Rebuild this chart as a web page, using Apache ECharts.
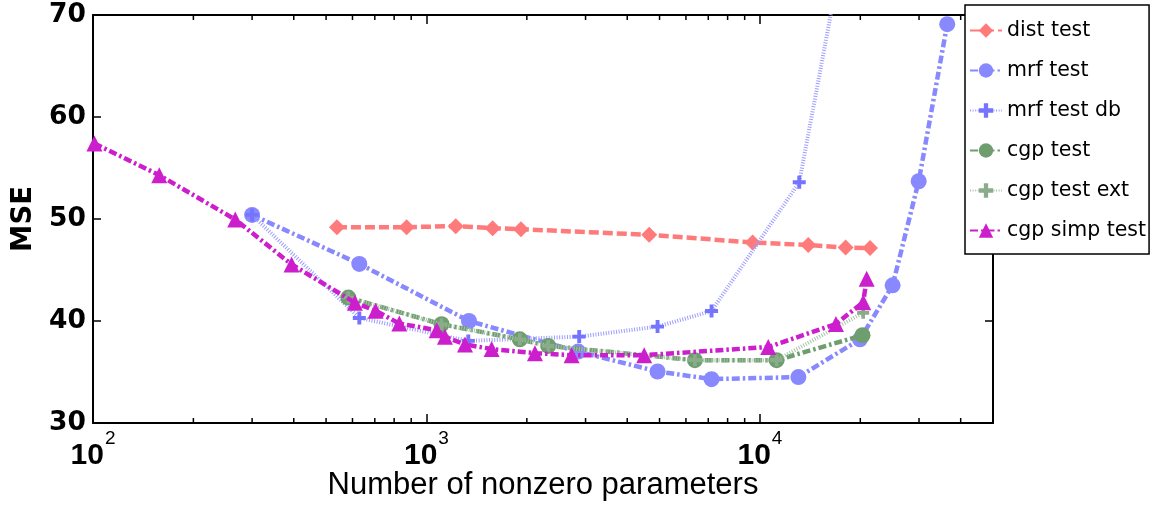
<!DOCTYPE html>
<html><head><meta charset="utf-8">
<script src="https://cdn.jsdelivr.net/npm/echarts@6/dist/echarts.min.js"></script>
<style>html,body{margin:0;padding:0;background:#fff}#c{width:1152px;height:506px}</style>
</head><body><div id="c"></div>
<script>
// ---- data ----
const seriesNames = ['dist test','mrf test','mrf test db','cgp test','cgp test ext','cgp simp test'];

const distX = [539, 872, 1224, 1579, 1920, 4656, 9508, 13960, 18070, 21390];
const distY = [49.2, 49.2, 49.3, 49.1, 49.0, 48.45, 47.7, 47.45, 47.2, 47.15];

const mrfX = [300, 629, 1341, 2851, 4932, 7160, 13040, 19950, 25000, 29930, 36450];
const mrfY = [50.4, 45.6, 40.0, 37.0, 35.05, 34.3, 34.5, 38.2, 43.5, 53.7, 69.1];

const mrfDbX = [300, 629, 1335, 2871, 4932, 7160, 13120, 18000];
const mrfDbY = [50.4, 40.3, 38.05, 38.47, 39.45, 40.98, 53.6, 77.5];

const cgpX = [583, 1110, 1905, 2318, 6383, 11220, 20310];
const cgpY = [42.3, 39.68, 38.2, 37.56, 36.16, 36.16, 38.6];

const cgpExtX = [583, 1110, 1905, 2318, 6383, 11220, 20400];
const cgpExtY = [42.3, 39.68, 38.2, 37.56, 36.16, 36.16, 40.8];

const simpX = [101, 158, 267, 394, 610, 704, 829, 1073, 1136, 1305, 1568, 2115, 2725, 4498, 10590, 16900, 20410, 20900];
const simpY = [57.4, 54.3, 49.95, 45.55, 41.8, 41.0, 39.75, 39.1, 38.45, 37.7, 37.25, 36.85, 36.65, 36.65, 37.45, 39.7, 41.85, 44.15];

const xMajorTicks = [100, 1000, 10000];
const xTickBase = ['10', '10', '10'];
const xTickExp = ['2', '3', '4'];
const xMinorTicks = [200,300,400,500,600,700,800,900,2000,3000,4000,5000,6000,7000,8000,9000,20000,30000,40000];
const yTicks = [30, 40, 50, 60, 70];

// ---- chart ----
const FONT = 'DejaVu Sans';
const FONT2 = 'Liberation Sans';
function zip(xs, ys) { return xs.map((x, i) => [x, ys[i]]); }
const PLUS = 'path://M3.5,0H6.5V3.5H10V6.5H6.5V10H3.5V6.5H0V3.5H3.5Z';

function xLabel(v) {
  for (let i = 0; i < xMajorTicks.length; i++) {
    if (Math.abs(v - xMajorTicks[i]) / xMajorTicks[i] < 1e-6) return '{b|' + xTickBase[i] + '}{s|' + xTickExp[i] + '}';
  }
  return '';
}

const chart = echarts.init(document.getElementById('c'), null, {renderer: 'canvas'});
const axisLine = {show: true, lineStyle: {color: '#000', width: 2}};

function lineSeries(name, xs, ys, color, lineColor, dash, width, symbol, size, z) {
  return {
    name, type: 'line', data: zip(xs, ys), xAxisIndex: 0, yAxisIndex: 0,
    symbol, symbolSize: size, clip: true, z,
    lineStyle: {color: lineColor, width, type: dash},
    itemStyle: {color},
    emphasis: {disabled: true}, animation: false
  };
}

const option = {
  animation: false,
  backgroundColor: '#fff',
  grid: {left: 93, right: 159, top: 15, bottom: 82, containLabel: false},
  xAxis: [{
    type: 'log', logBase: 10, min: 100, max: 50000, position: 'bottom',
    axisLine, splitLine: {show: false},
    axisTick: {show: true, inside: true, length: 9, lineStyle: {color: '#000', width: 1.5}},
    axisLabel: {
      show: true, margin: 6, formatter: xLabel, color: '#000',
      rich: {
        b: {fontFamily: FONT2, fontSize: 30, fontWeight: 'bold', color: '#000'},
        s: {fontFamily: FONT2, fontSize: 19, color: '#000', padding: [0, 0, 34, 1]}
      }
    },
    name: 'Number of nonzero parameters', nameLocation: 'middle', nameGap: 47, nameMoveOverlap: false,
    nameTextStyle: {fontFamily: FONT2, fontSize: 31, color: '#000'}
  }, {
    type: 'log', logBase: 10, min: 100, max: 50000, position: 'top',
    axisLine, splitLine: {show: false},
    axisTick: {show: true, inside: true, length: 9, lineStyle: {color: '#000', width: 1.5}},
    axisLabel: {show: false}
  }],
  yAxis: [{
    type: 'value', min: yTicks[0], max: yTicks[yTicks.length - 1], interval: 10, position: 'left',
    axisLine, splitLine: {show: false},
    axisTick: {show: true, inside: true, length: 8, lineStyle: {color: '#000', width: 1.5}},
    axisLabel: {margin: 7, color: '#000', fontFamily: FONT, fontSize: 26.5, fontWeight: 'bold'},
    name: 'MSE', nameLocation: 'middle', nameGap: 55, nameMoveOverlap: false,
    nameTextStyle: {fontFamily: FONT, fontSize: 27.5, fontWeight: 'bold', color: '#000'}
  }, {
    type: 'value', min: yTicks[0], max: yTicks[yTicks.length - 1], interval: 10, position: 'right',
    axisLine, splitLine: {show: false},
    axisTick: {show: true, inside: true, length: 8, lineStyle: {color: '#000', width: 1.5}},
    axisLabel: {show: false}
  }],
  legend: {
    show: true, orient: 'vertical', left: 965, top: 5,
    data: seriesNames,
    padding: [15, 3, 13, 4], itemGap: 19, itemWidth: 32, itemHeight: 18,
    borderColor: '#000', borderWidth: 1.5, backgroundColor: '#fff', borderRadius: 0,
    textStyle: {fontFamily: FONT, fontSize: 20.5, color: '#000'},
    selectedMode: false
  },
  series: [
    lineSeries('dist test', distX, distY, '#FF7B7B', '#FF7B7B', [10, 4], 4.5, 'diamond', 16, 2),
    lineSeries('mrf test', mrfX, mrfY, '#8888FF', '#8888FF', [8, 3, 2.5, 3], 4.5, 'circle', 16, 3),
    lineSeries('mrf test db', mrfDbX, mrfDbY, '#7474FF', '#9C9CFF', [1, 1.6], 4, PLUS, 13, 4),
    lineSeries('cgp test', cgpX, cgpY, '#6E9E6E', '#6E9E6E', [8, 3, 2.5, 3], 4.5, 'circle', 16, 5),
    lineSeries('cgp test ext', cgpExtX, cgpExtY, '#8AAC8A', '#A8C4A8', [1, 1.6], 4, PLUS, 12, 6),
    lineSeries('cgp simp test', simpX, simpY, '#CC1ECC', '#CC1ECC', [8, 3, 2.5, 3], 4.5, 'triangle', 16, 7),
    {
      type: 'custom', name: 'minor ticks', xAxisIndex: 0, yAxisIndex: 0, silent: true, clip: false, z: 20,
      data: xMinorTicks.map(v => [v, yTicks[0]]),
      encode: {x: 0, y: 1},
      renderItem(params, api) {
        const v = api.value(0);
        const b = api.coord([v, yTicks[0]]);
        const t = api.coord([v, yTicks[yTicks.length - 1]]);
        return {type: 'group', children: [
          {type: 'line', shape: {x1: b[0], y1: b[1], x2: b[0], y2: b[1] - 5}, style: {stroke: '#000', lineWidth: 1.5}},
          {type: 'line', shape: {x1: t[0], y1: t[1], x2: t[0], y2: t[1] + 5}, style: {stroke: '#000', lineWidth: 1.5}}
        ]};
      }
    }
  ]
};
chart.setOption(option);
</script>
</body></html>
